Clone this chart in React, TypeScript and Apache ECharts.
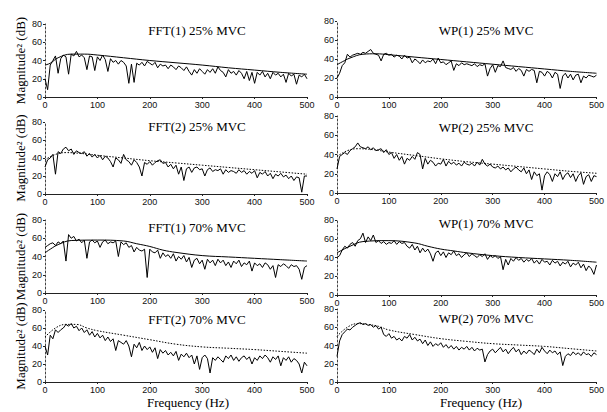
import React, { useEffect, useRef } from "react";
import * as echarts from "echarts";

// Frequency sampling grid (Hz) for the measured spectra
const FREQ: number[] = Array.from({ length: 101 }, (_, i) => i * 5);
const X_TICKS = [0, 100, 200, 300, 400, 500];
const Y_TICKS = [0, 20, 40, 60, 80];

const TITLES = [
  "FFT(1) 25% MVC", "WP(1) 25% MVC",
  "FFT(2) 25% MVC", "WP(2) 25% MVC",
  "FFT(1) 70% MVC", "WP(1) 70% MVC",
  "FFT(2) 70% MVC", "WP(2) 70% MVC",
];

// Measured spectra (dB), one value per FREQ entry
const FFT1_25 = [20,8,35,40,45,26,42,46,44,25,47,45,50,44,46,43,30,45,44,29,44,40,46,41,28,42,38,40,36,40,38,34,15,36,16,37,35,38,34,39,37,35,38,32,36,34,35,31,35,33,30,34,32,29,33,28,24,30,26,31,28,25,30,27,31,26,33,29,27,22,30,26,28,24,29,26,20,28,18,27,15,27,24,28,22,26,20,27,24,26,22,25,16,26,23,25,14,24,22,25,20];
const WP1_25 = [20,25,33,36,45,42,44,45,46,45,47,46,48,50,46,45,44,38,45,46,44,45,42,44,43,40,44,41,42,36,40,38,35,39,36,38,37,40,35,41,36,37,34,36,38,28,35,33,36,34,35,34,33,35,32,34,33,35,22,30,34,26,33,32,38,31,30,29,31,27,30,28,22,29,27,29,28,15,27,26,22,27,25,20,26,24,9,22,25,20,24,18,23,24,15,22,20,23,22,21,23];
const FFT2_25 = [30,38,40,44,22,47,45,50,52,48,50,44,48,46,45,47,42,45,41,44,40,43,38,42,40,36,30,40,38,34,44,38,36,32,38,35,30,20,35,33,36,32,35,37,38,34,35,30,33,28,32,22,30,15,28,30,24,29,30,27,28,20,27,29,25,27,26,28,22,27,24,26,25,23,27,24,26,22,25,23,26,18,24,22,25,20,23,17,22,20,23,19,21,17,20,15,19,18,2,20,20];
const WP2_25 = [25,38,40,42,40,44,46,48,52,48,47,46,48,45,47,44,45,46,42,45,40,42,36,40,34,38,30,36,34,38,35,42,40,25,36,30,34,32,28,31,30,35,28,33,30,32,29,31,28,32,30,29,31,28,32,29,35,30,28,30,27,26,28,25,27,24,26,22,25,27,24,22,26,20,24,14,22,18,20,3,18,22,19,12,20,17,22,14,19,21,16,20,12,18,21,9,17,19,12,18,17];
const FFT1_70 = [50,52,54,55,52,56,54,57,35,64,60,62,57,59,55,58,38,56,58,55,57,50,56,58,54,56,55,57,40,56,53,55,50,52,45,50,47,46,48,17,48,45,44,47,38,44,40,42,38,43,35,40,37,41,34,39,28,36,38,32,36,26,37,33,36,30,37,33,36,30,34,28,35,32,36,29,33,31,35,24,33,30,32,28,33,31,26,30,17,31,29,32,30,27,31,29,30,26,15,28,30];
const WP1_70 = [40,42,48,52,50,54,56,52,58,60,66,56,62,58,64,56,58,55,57,54,56,55,58,54,57,55,56,52,50,54,48,52,45,50,46,49,44,36,45,47,42,46,40,45,43,47,42,44,40,43,45,41,44,42,40,43,41,44,38,42,40,42,39,41,27,38,32,39,36,40,37,39,35,38,36,39,34,37,33,38,35,36,32,37,34,36,31,35,33,36,30,34,32,35,29,33,26,31,28,22,32];
const FFT2_70 = [40,30,52,48,58,55,58,60,64,62,65,60,62,57,60,55,58,52,56,50,54,49,52,46,50,45,48,35,46,44,42,46,40,28,42,38,44,35,40,36,39,33,38,26,36,32,35,30,33,29,34,24,31,28,32,27,30,20,29,14,27,30,26,10,27,24,28,25,22,29,26,30,24,28,23,27,29,25,28,20,27,24,29,26,30,27,22,28,25,29,18,27,24,28,22,26,24,20,10,22,18];
const WP2_70 = [28,45,52,55,58,57,60,62,64,65,63,64,62,63,60,62,58,60,52,50,53,48,50,46,48,45,50,48,52,46,49,45,47,42,46,40,44,39,42,40,43,38,41,37,40,36,39,35,38,36,39,35,38,34,37,35,36,22,30,34,36,32,35,38,33,36,31,35,38,33,36,30,34,31,35,33,30,36,32,38,34,31,35,32,34,30,33,18,28,31,29,33,30,32,29,33,30,31,28,32,30];

// Fitted (smooth) spectra: frequency / dB pairs
const FIT_X_1 = [0, 10, 25, 50, 75, 100, 150, 200, 250, 300, 350, 400, 450, 500];
const FIT_FFT1_25 = [35, 37, 43, 47, 47, 46, 43, 40, 37.5, 35, 32, 29.5, 27, 25];
const FIT_WP1_25 = [34, 37, 41, 45, 45.5, 44.5, 42, 39.5, 37, 34.5, 32, 29.5, 27, 25];
const FIT_X_2 = [0, 20, 40, 70, 100, 150, 200, 250, 300, 350, 400, 450, 500];
const FIT_FFT2_25 = [38, 44, 46, 45, 43, 40, 37, 34.5, 32, 29.5, 27, 24.5, 22];
const FIT_WP2_25 = [38, 44, 46, 45, 42.5, 39, 35.5, 32.5, 30, 27.5, 25, 22.5, 20.5];
const FIT_X_3 = [0, 10, 25, 50, 100, 150, 175, 200, 225, 250, 300, 350, 400, 450, 500];
const FIT_FFT1_70 = [44, 48, 53, 57.5, 58, 57, 54, 51, 47, 44.5, 41, 39.5, 38, 36.5, 35];
const FIT_WP1_70 = [45, 48, 52, 57, 58, 55.5, 52, 49, 47, 45, 42, 40, 38.5, 37, 35];
const FIT_X_4 = [0, 20, 40, 60, 80, 100, 150, 200, 250, 300, 350, 400, 450, 500];
const FIT_FFT2_70 = [50, 60, 64, 64, 60, 57, 52, 47, 42, 39, 37.5, 36, 34, 32];
const FIT_WP2_70 = [50, 60, 64, 63, 61, 57, 52, 47.5, 44.5, 42, 40.5, 39, 36.5, 34];

const NOISE = [FFT1_25, WP1_25, FFT2_25, WP2_25, FFT1_70, WP1_70, FFT2_70, WP2_70];
const FIT_X = [FIT_X_1, FIT_X_1, FIT_X_2, FIT_X_2, FIT_X_3, FIT_X_3, FIT_X_4, FIT_X_4];
const FIT_Y = [FIT_FFT1_25, FIT_WP1_25, FIT_FFT2_25, FIT_WP2_25, FIT_FFT1_70, FIT_WP1_70, FIT_FFT2_70, FIT_WP2_70];
const FIT_DOTTED = [false, false, true, true, false, false, true, true];

const SERIF = "'Liberation Serif', 'Times New Roman', serif";
const SANS = "'Liberation Sans', Arial, sans-serif";

// layout
const COL_LEFT = [45, 337];
const COL_WIDTH = [262, 260];
const ROW_TB = [
  [[24, 97], [21, 97]],
  [[122, 194], [116, 193]],
  [[220, 293], [220, 295]],
  [[310, 382], [309, 382]],
];
const TITLE_X = [197, 486];
const TITLE_Y = [[30, 30], [126, 127], [227, 223], [319, 318]];

export default function App() {
  const ref = useRef<HTMLDivElement>(null);
  useEffect(() => {
    if (!ref.current) return;
    const chart = echarts.init(ref.current, null, { renderer: "svg" });
    const grid: any[] = [];
    const xAxis: any[] = [];
    const yAxis: any[] = [];
    const series: any[] = [];
    const graphic: any[] = [];
    for (let i = 0; i < 8; i++) {
      const row = Math.floor(i / 2);
      const col = i % 2;
      const [t, b] = ROW_TB[row][col];
      grid.push({ left: COL_LEFT[col], width: COL_WIDTH[col], top: t, height: b - t });
      xAxis.push({
        gridIndex: i, type: "value", min: 0, max: 500, interval: 100,
        axisLine: { show: true, lineStyle: { color: "#222", width: 1 } },
        axisTick: { show: true, length: 2, inside: false, lineStyle: { color: "#222" } },
        axisLabel: { color: "#111", fontSize: 9, fontFamily: SANS, margin: 3 },
        splitLine: { show: false },
      });
      yAxis.push({
        gridIndex: i, type: "value", min: 0, max: 80, interval: 20,
        axisLine: { show: true, lineStyle: { color: "#444", width: 1, type: [2, 2] } },
        axisTick: { show: true, length: 2, lineStyle: { color: "#222" } },
        axisLabel: { color: "#111", fontSize: 9, fontFamily: SANS, margin: 3 },
        splitLine: { show: false },
      });
      series.push({
        type: "line", xAxisIndex: i, yAxisIndex: i, showSymbol: false, symbol: "none",
        data: FREQ.map((f, k) => [f, NOISE[i][k]]),
        lineStyle: { color: "#000", width: 1 },
      });
      series.push({
        type: "line", xAxisIndex: i, yAxisIndex: i, showSymbol: false, symbol: "none", smooth: 0.4,
        data: FIT_X[i].map((f, k) => [f, FIT_Y[i][k]]),
        lineStyle: { color: "#000", width: 1, type: FIT_DOTTED[i] ? [1.5, 1.5] : "solid" },
        z: 3,
      });
      graphic.push({
        type: "text", x: TITLE_X[col], y: TITLE_Y[row][col],
        style: { text: TITLES[i], font: `13px ${SERIF}`, fill: "#000", textAlign: "center", textVerticalAlign: "middle" },
      });
    }
    for (let row = 0; row < 4; row++) {
      const [t, b] = ROW_TB[row][0];
      graphic.push({
        type: "text", x: 20, y: (t + b) / 2, rotation: Math.PI / 2,
        style: { text: "Magnitude² (dB)", font: `13px ${SERIF}`, fill: "#000", textAlign: "center", textVerticalAlign: "middle" },
      });
    }
    graphic.push({
      type: "text", x: 188, y: 402,
      style: { text: "Frequency (Hz)", font: `13px ${SERIF}`, fill: "#000", textAlign: "center", textVerticalAlign: "middle" },
    });
    graphic.push({
      type: "text", x: 481, y: 402,
      style: { text: "Frequency (Hz)", font: `13px ${SERIF}`, fill: "#000", textAlign: "center", textVerticalAlign: "middle" },
    });
    chart.setOption({
      animation: false,
      backgroundColor: "#fff",
      grid, xAxis, yAxis, series, graphic,
    });
    return () => chart.dispose();
  }, []);
  return (
    <div
      ref={ref}
      style={{ position: "fixed", left: 0, top: 0, width: 607, height: 412, background: "#fff" }}
    />
  );
}
